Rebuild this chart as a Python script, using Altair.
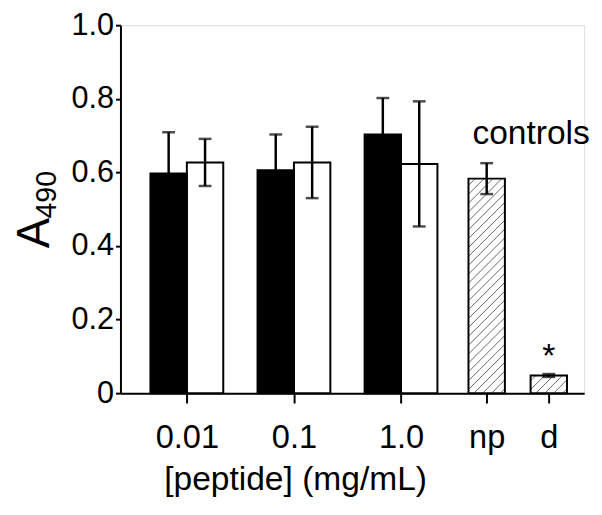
import altair as alt
import pandas as pd
import numpy as np

# ---------------- data ----------------
groups = ["0.01", "0.1", "1.0"]
filled_mean = [0.597, 0.606, 0.703]
filled_err = [0.112, 0.097, 0.099]
open_mean = [0.627, 0.627, 0.623]
open_err = [0.064, 0.097, 0.170]
controls = ["np", "d"]
control_mean = [0.583, 0.048]
control_err = [0.042, 0.004]
y_ticks = [0, 0.2, 0.4, 0.6, 0.8, 1.0]

# ---------------- layout ----------------
W, H = 470, 373
XMIN, XMAX = 0.38, 4.71
group_pos = [1, 2, 3]
control_pos = [3.8, 4.38]
HALF = 0.17          # half of one bar width, in x units
FONT = "Liberation Sans"

rows = []
for g, m, e in zip(group_pos, filled_mean, filled_err):
    rows.append(dict(kind="filled", x0=g - 2 * HALF, x1=g, xc=g - HALF, mean=m, lo=m - e, hi=m + e))
for g, m, e in zip(group_pos, open_mean, open_err):
    rows.append(dict(kind="open", x0=g, x1=g + 2 * HALF, xc=g + HALF, mean=m, lo=m - e, hi=m + e))
for c, m, e in zip(control_pos, control_mean, control_err):
    rows.append(dict(kind="control", x0=c - HALF, x1=c + HALF, xc=c, mean=m, lo=m - e, hi=m + e))
bars = pd.DataFrame(rows)

caps = pd.concat([
    bars[["xc", "lo"]].rename(columns={"lo": "v"}),
    bars[["xc", "hi"]].rename(columns={"hi": "v"}),
])

# hatch lines for the control bars
PPX = W / (XMAX - XMIN)
PPY = H / 1.0
SP = 9.0
hrows = []
for c, m in zip(control_pos, control_mean):
    bw = 2 * HALF * PPX
    bh = m * PPY
    left = c - HALF
    for off in np.arange(-bw + SP / 2, bh, SP):
        xs = max(0.0, -off)
        xe_ = min(bw, bh - off)
        if xe_ - xs > 0.5:
            hrows.append(dict(hx=left + xs / PPX, hy=(xs + off) / PPY,
                              hx2=left + xe_ / PPX, hy2=(xe_ + off) / PPY))
hatch = pd.DataFrame(hrows)

tick_vals = group_pos + control_pos
tick_labels = groups + controls
label_map = "{" + ",".join(f"'{v}':'{l}'" for v, l in zip(tick_vals, tick_labels)) + "}"

xscale = alt.Scale(domain=[XMIN, XMAX], nice=False, zero=False)
yscale = alt.Scale(domain=[0, 1], nice=False, zero=True)

xaxis = alt.Axis(values=tick_vals, labelExpr=f"{label_map}[datum.value]", grid=False,
                 domainColor="black", domainWidth=2, tickColor="black", tickWidth=2,
                 tickSize=10, labelFontSize=33, labelColor="black", labelFont=FONT,
                 labelBaseline="alphabetic", labelPadding=45, labelFlush=False,
                 labelOverlap=False, titleFontSize=34, titleFont=FONT, titleColor="black",
                 titleFontWeight="normal", titleX=177, titleY=98, titleBaseline="alphabetic",
                 titleAlign="center", titleAnchor="start")
yaxis = alt.Axis(values=y_ticks, labelExpr="datum.value == 0 ? '0' : format(datum.value, '.1f')",
                 grid=False, domainColor="black", domainWidth=2, tickColor="black", tickWidth=2,
                 tickSize=5, labelFontSize=31, labelColor="black", labelFont=FONT,
                 labelPadding=2, labelFlush=False, labelOverlap=False)

XT = "[peptide] (mg/mL)"


def xe(f):
    return alt.X(f, type="quantitative", scale=xscale, axis=xaxis, title=XT)


def ye(f):
    return alt.Y(f, type="quantitative", scale=yscale, axis=yaxis, title=None)


fill_scale = alt.Scale(domain=["filled", "open", "control"], range=["black", "white", "white"])

bar_fill = alt.Chart(bars).mark_bar(strokeWidth=0).encode(
    x=xe("x0"), x2="x1", y=ye("mean"), y2=alt.datum(0),
    fill=alt.Fill("kind:N", scale=fill_scale, legend=None),
)

hatch_layer = alt.Chart(hatch).mark_rule(color="#666666", strokeWidth=1).encode(
    x=xe("hx"), x2="hx2", y=ye("hy"), y2="hy2"
)

bar_outline = alt.Chart(bars).mark_bar(fillOpacity=0, stroke="black", strokeWidth=2).encode(
    x=xe("x0"), x2="x1", y=ye("mean"), y2=alt.datum(0)
)

stems = alt.Chart(bars).mark_rule(color="black", strokeWidth=2.5).encode(
    x=xe("xc"), y=ye("lo"), y2="hi"
)

cap_layer = alt.Chart(caps).mark_tick(orient="horizontal", size=13, thickness=2.5, color="black").encode(
    x=xe("xc"), y=ye("v")
)

ann = pd.DataFrame({"tx": [4.215, control_pos[1]], "ty": [0.678, 0.072], "t": ["controls", "*"]})
ann_layer = alt.Chart(ann).mark_text(fontSize=34, font=FONT, color="black", align="center",
                                     baseline="alphabetic").encode(
    x=xe("tx"), y=ye("ty"), text="t:N"
)

ytitle_a = alt.Chart(pd.DataFrame({"t": ["A"]})).mark_text(
    fontSize=46, font=FONT, color="black", angle=270, align="left", baseline="alphabetic"
).encode(x=alt.value(-72), y=alt.value(226), text="t:N")

ytitle_sub = alt.Chart(pd.DataFrame({"t": ["490"]})).mark_text(
    fontSize=29, font=FONT, color="black", angle=270, align="left", baseline="alphabetic"
).encode(x=alt.value(-65), y=alt.value(196), text="t:N")

chart = alt.layer(
    bar_fill, hatch_layer, bar_outline, stems, cap_layer, ann_layer, ytitle_a, ytitle_sub
).properties(
    width=W, height=H,
    autosize=alt.AutoSizeParams(type="none"),
    padding={"left": 114, "top": 14, "right": 10, "bottom": 112},
).configure_view(stroke=None).configure(background="white")

chart.save("out.html", embed_options={"renderer": "svg", "actions": False})
